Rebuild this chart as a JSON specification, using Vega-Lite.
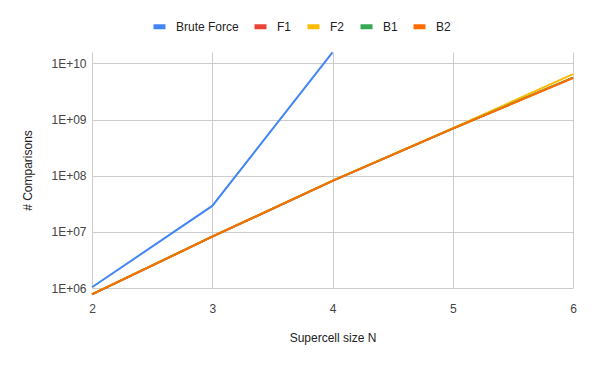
{
  "$schema": "https://vega.github.io/schema/vega-lite/v6.json",
  "autosize": {"type": "none"},
  "padding": {"left": 92, "top": 52, "right": 19, "bottom": 78},
  "width": 481,
  "height": 236,
  "background": "white",
  "config": {
    "font": "Liberation Sans",
    "view": {"stroke": null},
    "axis": {"labelFont": "Liberation Sans", "titleFont": "Liberation Sans", "labelFontSize": 12, "titleFontSize": 12, "titleFontWeight": "normal", "labelColor": "#444444", "titleColor": "#222222", "gridColor": "#cccccc", "domain": false, "ticks": false}
  },
  "data": {
    "values": [
      {"series": "Brute Force", "n": 2, "v": 1030000},
      {"series": "Brute Force", "n": 3, "v": 29000000},
      {"series": "Brute Force", "n": 4, "v": 15700000000},
      {"series": "F1", "n": 2, "v": 770000},
      {"series": "F1", "n": 3, "v": 8200000},
      {"series": "F1", "n": 4, "v": 81000000},
      {"series": "F1", "n": 5, "v": 690000000},
      {"series": "F1", "n": 6, "v": 5600000000},
      {"series": "F2", "n": 2, "v": 780000},
      {"series": "F2", "n": 3, "v": 8300000},
      {"series": "F2", "n": 4, "v": 82000000},
      {"series": "F2", "n": 5, "v": 700000000},
      {"series": "F2", "n": 6, "v": 6450000000},
      {"series": "B1", "n": 2, "v": 770000},
      {"series": "B1", "n": 3, "v": 8200000},
      {"series": "B1", "n": 4, "v": 81000000},
      {"series": "B1", "n": 5, "v": 690000000},
      {"series": "B1", "n": 6, "v": 5600000000},
      {"series": "B2", "n": 2, "v": 770000},
      {"series": "B2", "n": 3, "v": 8200000},
      {"series": "B2", "n": 4, "v": 81000000},
      {"series": "B2", "n": 5, "v": 690000000},
      {"series": "B2", "n": 6, "v": 5500000000}
    ]
  },
  "mark": {"type": "line", "strokeWidth": 2, "clip": false},
  "encoding": {
    "x": {
      "field": "n", "type": "quantitative",
      "scale": {"domain": [2, 6], "nice": false, "zero": false},
      "axis": {"values": [2, 3, 4, 5, 6], "format": "d", "title": "Supercell size N", "labelPadding": 15, "titlePadding": 18, "grid": true, "labelFlush": false}
    },
    "y": {
      "field": "v", "type": "quantitative",
      "scale": {"type": "log", "domain": [1000000, 16000000000], "nice": false},
      "axis": {"values": [1000000, 10000000, 100000000, 1000000000, 10000000000], "labelExpr": "'1E+' + (round(log(datum.value)/LN10) < 10 ? '0' : '') + round(log(datum.value)/LN10)", "title": "# Comparisons", "labelPadding": 6, "titlePadding": 16, "grid": true}
    },
    "color": {
      "field": "series", "type": "nominal",
      "scale": {"domain": ["Brute Force", "F1", "F2", "B1", "B2"], "range": ["#4285F4", "#EA4335", "#FBBC04", "#34A853", "#FF6D01"]},
      "legend": {"orient": "none", "direction": "horizontal", "legendX": 59, "legendY": -34, "title": null, "symbolType": "stroke", "symbolStrokeWidth": 5, "symbolSize": 144, "labelFontSize": 12, "labelColor": "#222222", "labelFont": "Liberation Sans", "columnPadding": 5, "labelOffset": 8}
    },
    "order": {"field": "n"}
  }
}
